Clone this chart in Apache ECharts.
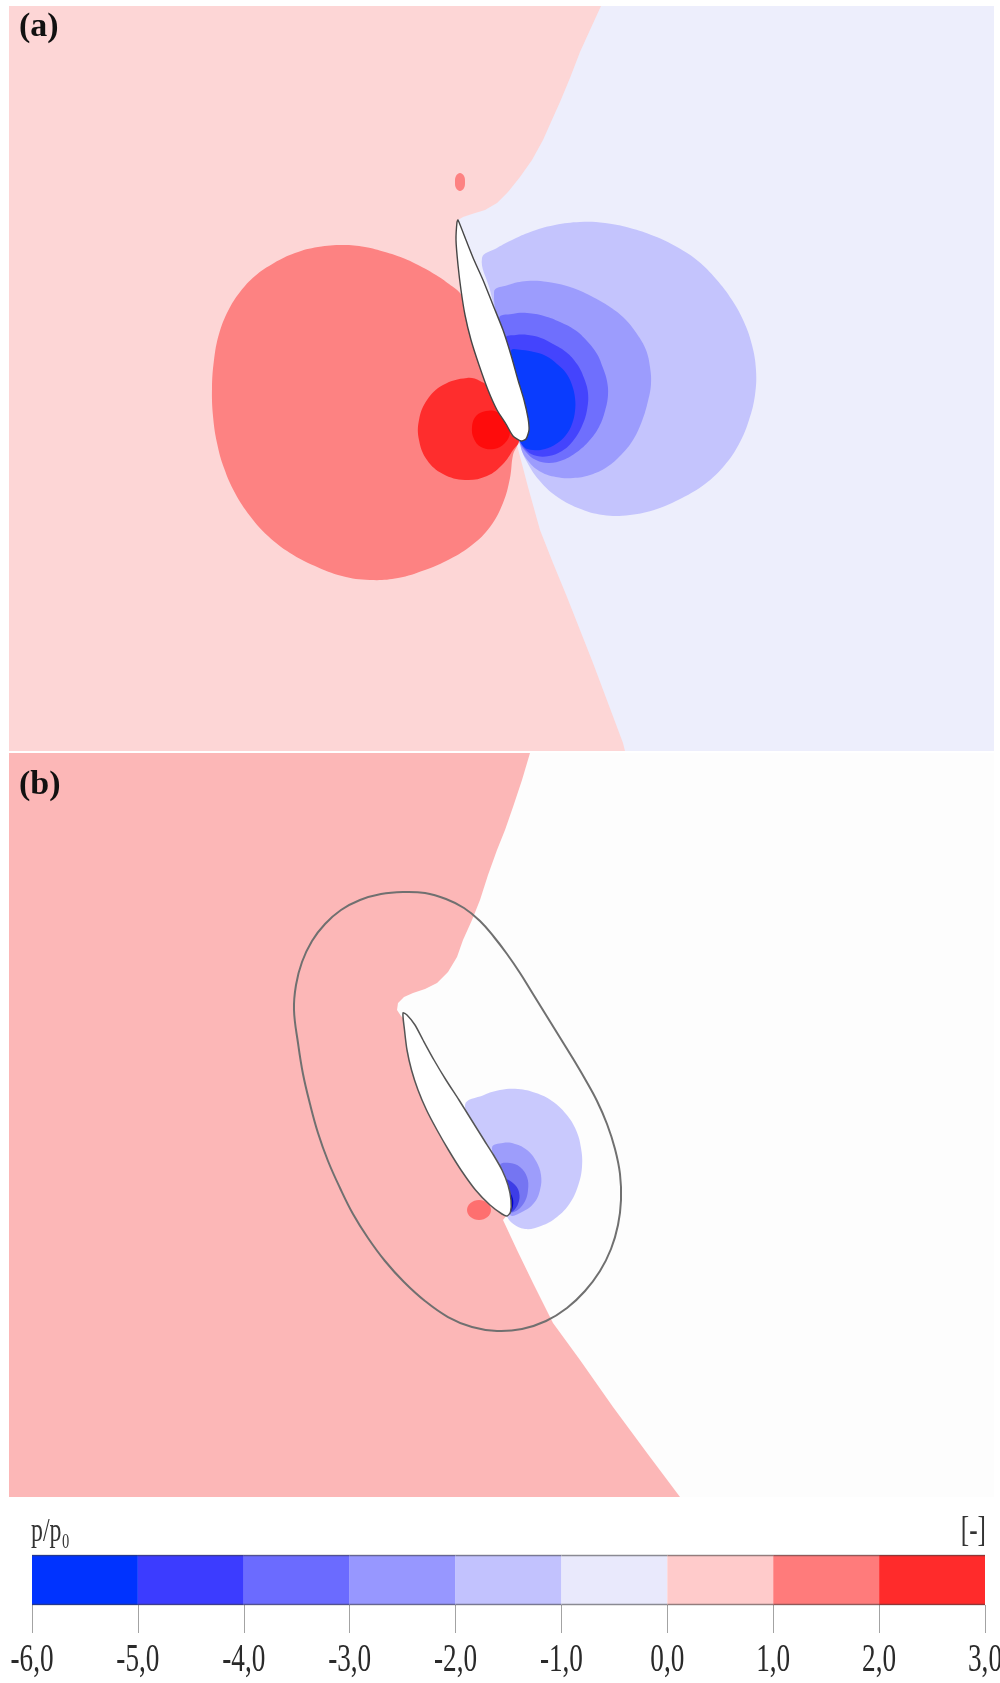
<!DOCTYPE html>
<html>
<head>
<meta charset="utf-8">
<script src="https://cdn.jsdelivr.net/npm/echarts@6/dist/echarts.min.js"></script>
<style>
html,body{margin:0;padding:0;background:#ffffff;}
#chart{width:1000px;height:1683px;}
</style>
</head>
<body>
<div id="chart"></div>
<script>
// ---- colour scale of p/p0 ----
const bandLows   = [-6, -5, -4, -3, -2, -1, 0, 1, 2];
const tickValues = [-6, -5, -4, -3, -2, -1, 0, 1, 2, 3];
const tickLabels = ['-6,0', '-5,0', '-4,0', '-3,0', '-2,0', '-1,0', '0,0', '1,0', '2,0', '3,0'];
const barColors  = ['#0033ff', '#3c3cff', '#6b6bff', '#9797ff', '#c2c2fe', '#e9e9fc', '#ffcbcb', '#ff7b7b', '#ff2b2b'];

// ---- case (a): iso-band outlines in field units (x right, y down) ----
const a_band0 = [[0.9,0.6],[99.4,0.6],[99.4,75.1],[0.9,75.1]];
const a_bandM1 = [[60.1,0.6],[59.0,3.0],[58.0,5.2],[57.0,7.8],[56.0,10.2],[55.1,12.2],[54.3,14.0],[53.2,16.0],[52.0,17.7],[50.8,19.2],[49.7,20.3],[48.5,21.0],[47.2,21.4],[46.3,21.7],[45.8,22.0],[46.6,24.0],[48.3,28.0],[50.3,33.0],[51.8,38.0],[52.8,41.8],[52.6,44.0],[51.7,44.5],[52.8,48.7],[54.0,53.0],[55.3,56.3],[56.7,59.7],[58.0,63.0],[59.3,66.3],[60.8,70.3],[62.3,74.3],[62.5,75.1],[99.4,75.1],[99.4,0.6]];
const a_band1 = [[47.0,31.0],[46.0,29.3],[44.9,28.4],[43.6,27.5],[42.0,26.6],[40.3,25.8],[38.5,25.2],[36.5,24.7],[34.3,24.5],[31.8,24.7],[29.5,25.3],[27.4,26.3],[25.5,27.6],[24.0,29.2],[22.8,31.1],[21.9,33.4],[21.4,36.0],[21.2,38.8],[21.3,41.6],[21.7,44.3],[22.4,46.8],[23.5,49.3],[25.0,51.6],[26.8,53.6],[29.0,55.3],[31.5,56.6],[34.2,57.6],[37.0,58.0],[39.8,57.8],[42.5,57.0],[45.0,55.9],[47.2,54.5],[49.0,52.7],[50.3,50.3],[51.0,47.8],[51.3,45.5],[51.8,44.1],[51.0,41.0],[49.5,37.0],[48.2,34.0]];
const a_band2 = [[46.7,37.8],[44.3,38.5],[42.7,40.0],[41.9,42.0],[41.9,44.0],[42.7,46.0],[44.3,47.4],[46.5,48.0],[48.7,47.6],[50.3,46.4],[51.3,45.0],[51.9,44.0],[50.8,41.2],[49.2,39.0],[48.0,38.1]];
const a_band3 = [[47.2,42.7],[47.6,41.6],[48.6,41.1],[49.7,41.2],[50.6,42.0],[51.0,43.2],[50.5,44.3],[49.4,44.9],[48.1,44.7],[47.4,43.9]];
const a_spot1 = [[46.0,17.3],[46.4,17.6],[46.5,18.2],[46.4,18.8],[46.0,19.1],[45.6,18.8],[45.5,18.2],[45.6,17.6]];
const a_bandM2 = [[48.2,25.8],[49.7,24.8],[51.4,23.9],[53.3,23.1],[55.5,22.5],[58.0,22.2],[60.5,22.3],[63.0,22.8],[65.4,23.6],[67.7,24.7],[69.8,26.1],[71.6,27.9],[73.2,30.0],[74.4,32.2],[75.2,34.5],[75.6,37.0],[75.5,39.5],[74.9,42.0],[73.9,44.4],[72.4,46.6],[70.5,48.4],[68.2,49.8],[65.7,50.9],[63.0,51.5],[60.3,51.5],[57.8,50.8],[55.6,49.6],[53.9,48.0],[52.7,46.2],[52.1,44.7],[51.8,42.0],[51.0,38.0],[50.0,33.0],[49.0,29.0]];
const a_bandM3 = [[49.4,29.2],[50.8,28.5],[52.7,28.1],[54.8,28.2],[57.0,28.7],[59.1,29.6],[61.0,30.7],[62.5,31.9],[63.7,33.4],[64.6,35.0],[65.0,36.7],[65.1,38.4],[64.8,40.1],[64.2,42.1],[63.3,44.0],[62.1,45.5],[60.7,46.7],[59.0,47.5],[57.3,47.8],[55.6,47.7],[54.1,47.2],[52.9,46.2],[52.1,44.8],[51.5,41.0],[50.5,35.0]];
const a_bandM4 = [[49.9,31.8],[51.2,31.4],[52.7,31.3],[54.4,31.6],[56.0,32.2],[57.5,33.0],[58.7,34.1],[59.7,35.4],[60.3,36.8],[60.7,38.1],[60.8,39.5],[60.5,41.1],[59.9,42.7],[58.9,44.1],[57.7,45.2],[56.3,46.0],[54.9,46.3],[53.6,46.0],[52.6,45.2],[51.9,44.0],[51.2,40.0],[50.6,35.0]];
const a_bandM5 = [[50.5,33.8],[51.6,33.5],[52.8,33.5],[54.1,33.8],[55.3,34.4],[56.6,35.2],[57.7,36.4],[58.4,37.8],[58.8,39.3],[58.7,41.0],[58.2,42.6],[57.3,44.1],[56.2,45.1],[54.9,45.6],[53.7,45.6],[52.7,45.1],[52.0,44.0],[51.3,40.0],[50.8,36.0]];
const a_bandM6 = [[51.1,35.1],[52.2,35.0],[53.4,35.2],[54.6,35.6],[55.7,36.4],[56.6,37.3],[57.2,38.5],[57.5,39.8],[57.5,41.1],[57.2,42.4],[56.6,43.5],[55.6,44.4],[54.5,44.9],[53.3,45.0],[52.4,44.7],[51.8,43.5],[51.4,40.0]];
const a_blade = [[45.8,22.0],[46.6,24.0],[47.4,26.0],[48.3,28.0],[49.3,30.5],[50.3,33.0],[51.1,35.5],[51.8,38.0],[52.4,40.0],[52.8,41.8],[52.9,43.0],[52.6,43.9],[52.1,44.1],[51.3,43.6],[50.6,42.4],[49.7,41.0],[48.8,39.0],[47.9,36.5],[47.1,34.0],[46.5,31.5],[46.1,29.0],[45.8,26.5],[45.6,24.0],[45.7,22.2]];

// ---- case (b) ----
const b_band0 = [[0.9,0.6],[99.4,0.6],[99.4,75.0],[0.9,75.0]];
const b_bandM1 = [[53.0,0.6],[52.2,3.3],[51.3,6.0],[50.5,8.3],[49.7,10.3],[48.8,12.8],[48.0,15.3],[47.2,17.3],[46.3,19.3],[45.7,21.0],[44.8,22.5],[43.7,23.6],[42.5,24.2],[41.3,24.6],[40.4,25.0],[39.8,25.6],[39.7,26.3],[40.1,26.9],[40.5,27.3],[42.5,30.0],[45.0,34.0],[47.5,38.0],[49.5,41.5],[50.6,44.5],[50.8,46.2],[50.7,46.8],[50.3,47.3],[51.7,50.3],[53.3,53.6],[55.3,57.6],[58.0,61.3],[61.3,66.0],[64.7,70.6],[68.0,75.0],[99.4,75.0],[99.4,0.6]];
const b_bandM2 = [[46.5,35.8],[48.4,34.8],[50.0,34.3],[51.8,34.2],[53.6,34.6],[55.2,35.4],[56.6,36.7],[57.6,38.3],[58.1,40.1],[58.2,42.0],[57.8,43.9],[57.0,45.6],[55.7,47.0],[54.1,47.9],[52.5,48.2],[51.2,47.6],[50.6,46.7],[49.5,43.3],[48.0,39.3]];
const b_bandM3 = [[49.2,40.1],[50.3,39.6],[51.5,39.7],[52.7,40.3],[53.6,41.4],[54.1,42.8],[54.0,44.3],[53.4,45.6],[52.2,46.5],[51.0,46.8],[50.3,44.8]];
const b_bandM4 = [[50.0,41.8],[51.0,41.6],[52.0,42.0],[52.7,43.0],[52.8,44.3],[52.4,45.6],[51.4,46.5],[50.6,46.3],[50.3,44.3]];
const b_bandM5 = [[50.5,43.3],[51.3,43.6],[51.9,44.5],[51.8,45.7],[51.1,46.5],[50.6,45.8]];
const b_bandM6 = [[50.7,44.3],[51.2,44.9],[51.3,45.9],[50.9,46.7],[50.6,45.8]];
const b_spot1 = [[47.9,45.3],[48.75,45.6],[49.1,46.3],[48.75,47.0],[47.9,47.3],[47.05,47.0],[46.7,46.3],[47.05,45.6]];
const b_sonicLine = [[29.4,26.3],[29.6,23.8],[30.2,21.5],[31.2,19.4],[32.5,17.7],[34.1,16.3],[36.0,15.3],[38.1,14.7],[40.3,14.5],[42.5,14.6],[44.6,15.2],[46.4,16.1],[48.0,17.4],[49.4,19.0],[50.7,20.7],[52.0,22.6],[53.3,24.7],[54.6,26.8],[55.9,28.9],[57.2,31.0],[58.5,33.2],[59.7,35.4],[60.7,37.7],[61.5,40.2],[62.0,42.7],[62.1,45.3],[61.8,47.8],[61.1,50.2],[60.0,52.4],[58.5,54.4],[56.7,56.1],[54.6,57.4],[52.2,58.2],[49.7,58.4],[47.2,58.0],[44.8,57.0],[42.5,55.4],[40.4,53.5],[38.5,51.4],[36.8,49.1],[35.3,46.7],[34.0,44.1],[32.8,41.4],[31.8,38.6],[31.0,35.7],[30.3,32.7],[29.8,29.6]];
const b_blade = [[40.3,26.6],[40.45,28.3],[40.7,30.3],[41.15,32.3],[41.8,34.3],[42.65,36.3],[43.7,38.3],[44.85,40.3],[46.1,42.3],[47.55,44.3],[49.0,45.8],[50.2,46.7],[50.7,46.9],[51.05,46.5],[51.1,45.3],[50.8,43.8],[50.2,42.3],[49.35,40.8],[48.4,39.3],[47.15,37.3],[45.9,35.3],[44.6,33.3],[43.4,31.3],[42.3,29.3],[41.5,27.8],[40.7,26.8]];

// fill colours of the iso-bands in each case
const fieldColorsA = {'-6':'#0a3cfe','-5':'#4444fd','-4':'#6f6ffd','-3':'#9c9cfd','-2':'#c4c4fd','-1':'#edeefc','0':'#fdd6d6','1':'#fd8282','2':'#fe2d2d','3':'#fe0c0c'};
const fieldColorsB = {'-6':'#0000cc','-5':'#3d3de6','-4':'#7575f2','-3':'#9d9dfb','-2':'#c9c9fd','-1':'#fdfdfd','0':'#fcb7b7','1':'#fe6f6f'};

// draw order: outer bands first, inner bands on top
const layersA = [
  {level: 0, pts: a_band0, smooth: 0},
  {level: -1, pts: a_bandM1, smooth: 0},
  {level: 1, pts: a_band1, smooth: 0.4},
  {level: 2, pts: a_band2, smooth: 0.4},
  {level: 3, pts: a_band3, smooth: 0.4},
  {level: 1, pts: a_spot1, smooth: 0.4},
  {level: -2, pts: a_bandM2, smooth: 0.4},
  {level: -3, pts: a_bandM3, smooth: 0.4},
  {level: -4, pts: a_bandM4, smooth: 0.4},
  {level: -5, pts: a_bandM5, smooth: 0.4},
  {level: -6, pts: a_bandM6, smooth: 0.4}
];
const layersB = [
  {level: 0, pts: b_band0, smooth: 0},
  {level: -1, pts: b_bandM1, smooth: 0},
  {level: -2, pts: b_bandM2, smooth: 0.4},
  {level: -3, pts: b_bandM3, smooth: 0.4},
  {level: -4, pts: b_bandM4, smooth: 0.4},
  {level: -5, pts: b_bandM5, smooth: 0.4},
  {level: -6, pts: b_bandM6, smooth: 0.4},
  {level: 1, pts: b_spot1, smooth: 0.4}
];

function bandSeries(gridIndex, layers, palette, z) {
  return {
    type: 'custom', xAxisIndex: gridIndex, yAxisIndex: gridIndex,
    clip: true, silent: true, z: z,
    data: layers.map((l, i) => [l.pts[0][0], l.pts[0][1], i]),
    renderItem: function (params, api) {
      const l = layers[params.dataIndex];
      return {
        type: 'polygon',
        shape: { points: l.pts.map(p => api.coord(p)), smooth: l.smooth },
        style: { fill: palette[String(l.level)] }
      };
    }
  };
}

function outlineSeries(gridIndex, pts, fill, stroke, width, smooth, z) {
  return {
    type: 'custom', xAxisIndex: gridIndex, yAxisIndex: gridIndex,
    clip: true, silent: true, z: z,
    data: [[pts[0][0], pts[0][1]]],
    renderItem: function (params, api) {
      return {
        type: 'polygon',
        shape: { points: pts.map(p => api.coord(p)), smooth: smooth },
        style: { fill: fill, stroke: stroke, lineWidth: width }
      };
    }
  };
}

const hiddenAxis = (gi, min, max, inverse) => ({
  type: 'value', gridIndex: gi, min: min, max: max, inverse: !!inverse, show: false
});

const chart = echarts.init(document.getElementById('chart'), null, { renderer: 'canvas' });

chart.setOption({
  animation: false,
  backgroundColor: '#ffffff',
  grid: [
    { left: 9, top: 6, width: 985, height: 745 },
    { left: 9, top: 753, width: 985, height: 744 },
    { left: 32, top: 1555, width: 953, height: 50 }
  ],
  xAxis: [
    hiddenAxis(0, 0.9, 99.4),
    hiddenAxis(1, 0.9, 99.4),
    {
      type: 'value', gridIndex: 2, min: -6, max: 3, interval: 1,
      axisLine: { show: false },
      axisTick: { show: true, length: 28, lineStyle: { color: '#a3a3a3', width: 1 } },
      axisLabel: { show: false },
      splitLine: { show: false }
    }
  ],
  yAxis: [
    hiddenAxis(0, 0.6, 75.1, true),
    hiddenAxis(1, 0.6, 75.0, true),
    hiddenAxis(2, 0, 1, false)
  ],
  series: [
    bandSeries(0, layersA, fieldColorsA, 2),
    outlineSeries(0, a_blade, '#ffffff', '#464646', 1.4, 0.2, 3),
    bandSeries(1, layersB, fieldColorsB, 4),
    outlineSeries(1, b_sonicLine, 'none', '#707070', 2, 0.4, 5),
    outlineSeries(1, b_blade, '#ffffff', '#555555', 1.5, 0.25, 6),
    {
      // colour bar cells
      type: 'custom', xAxisIndex: 2, yAxisIndex: 2, silent: true, z: 7,
      data: bandLows.map((lo, i) => [lo, 0, i]),
      renderItem: function (params, api) {
        const lo = api.value(0);
        const p0 = api.coord([lo, 1]);
        const p1 = api.coord([lo + 1, 0]);
        const w = p1[0] - p0[0];
        return {
          type: 'group',
          children: [
            { type: 'rect', shape: { x: p0[0], y: p0[1], width: w, height: p1[1] - p0[1] },
              style: { fill: barColors[params.dataIndex] } },
            { type: 'line', shape: { x1: p0[0], y1: p0[1] + 0.5, x2: p1[0], y2: p0[1] + 0.5 },
              style: { stroke: 'rgba(60,60,60,0.55)', lineWidth: 1.5 } },
            { type: 'line', shape: { x1: p0[0], y1: p1[1] - 0.5, x2: p1[0], y2: p1[1] - 0.5 },
              style: { stroke: 'rgba(60,60,60,0.55)', lineWidth: 1.5 } }
          ]
        };
      }
    },
    {
      // colour bar tick labels
      type: 'custom', xAxisIndex: 2, yAxisIndex: 2, silent: true, clip: false, z: 8,
      data: tickValues.map((v, i) => [v, 0, i]),
      renderItem: function (params, api) {
        const p = api.coord([api.value(0), 0]);
        return {
          type: 'text', x: p[0], y: p[1] + 55, scaleX: 0.68,
          style: {
            text: tickLabels[params.dataIndex], fill: '#2a2a2a',
            font: '40px "Liberation Serif"',
            align: 'center', verticalAlign: 'middle',
            textAlign: 'center', textVerticalAlign: 'middle'
          }
        };
      }
    }
  ],
  graphic: [
    { type: 'text', x: 19, y: 27, z: 100,
      style: { text: '(a)', font: 'bold 34px "Liberation Serif"', fill: '#111111',
               verticalAlign: 'middle', textVerticalAlign: 'middle' } },
    { type: 'text', x: 19, y: 785, z: 100,
      style: { text: '(b)', font: 'bold 34px "Liberation Serif"', fill: '#111111',
               verticalAlign: 'middle', textVerticalAlign: 'middle' } },
    { type: 'text', x: 31, y: 1532, z: 100, scaleX: 0.7,
      style: { text: 'p/p\u2080', font: '34px "Liberation Serif"', fill: '#333333',
               verticalAlign: 'middle', textVerticalAlign: 'middle' } },
    { type: 'text', x: 986, y: 1532, z: 100, scaleX: 0.7,
      style: { text: '[-]', font: '36px "Liberation Serif"', fill: '#333333',
               align: 'right', textAlign: 'right',
               verticalAlign: 'middle', textVerticalAlign: 'middle' } }
  ]
});
</script>
</body>
</html>
